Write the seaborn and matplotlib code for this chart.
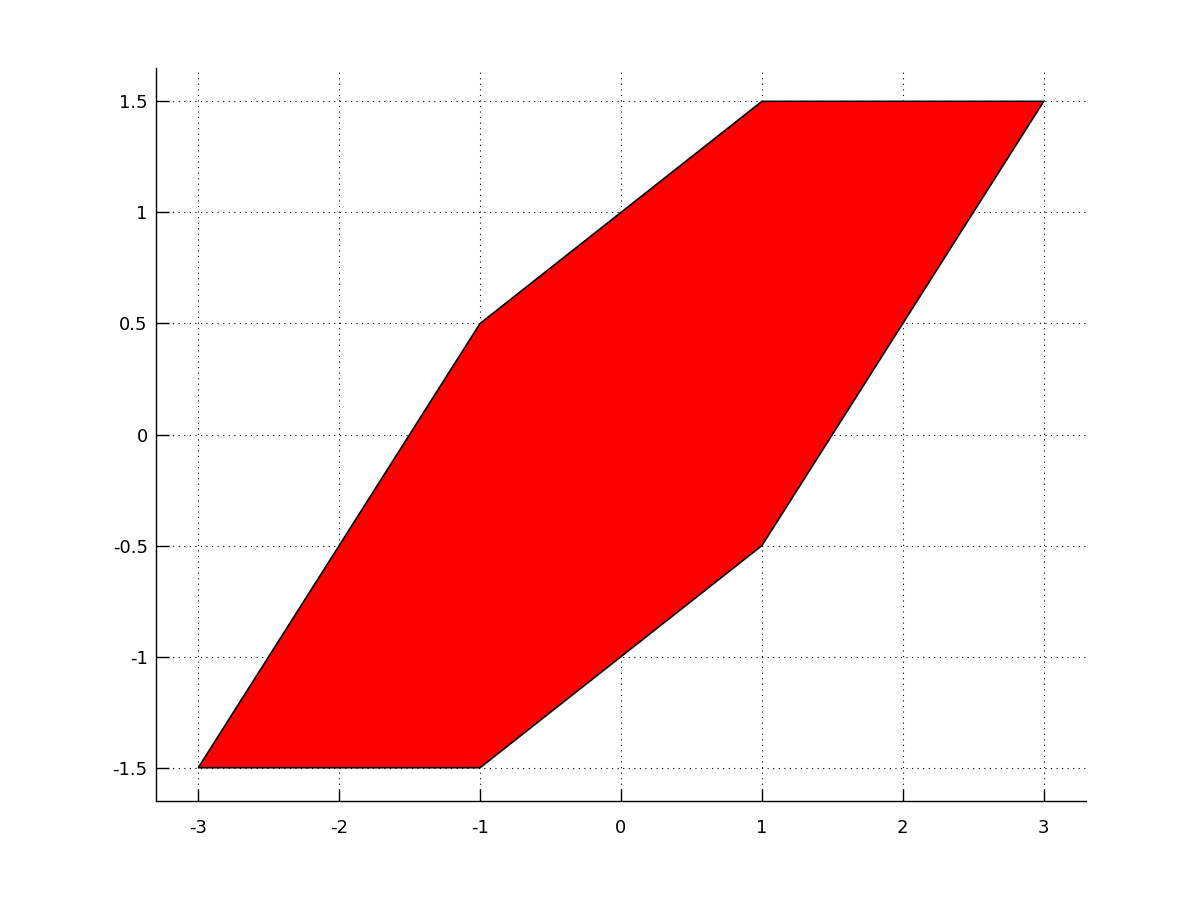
import matplotlib
matplotlib.use("Agg")
import matplotlib.pyplot as plt
import seaborn as sns

# vertices of the polygon
poly_x = [-3, -1, 1, 3, 1, -1]
poly_y = [-1.5, -1.5, -0.5, 1.5, 1.5, 0.5]

x_ticks = [-3, -2, -1, 0, 1, 2, 3]
y_ticks = [-1.5, -1, -0.5, 0, 0.5, 1, 1.5]
y_labels = ["-1.5", "-1", "-0.5", "0", "0.5", "1", "1.5"]

sns.set_theme(style="ticks")
plt.rcParams['font.family'] = ['DejaVu Sans']

fig = plt.figure(figsize=(12, 9), dpi=100)
ax = fig.add_axes([0.13, 0.11, 0.775, 0.8144])

ax.fill(poly_x + [poly_x[0]], poly_y + [poly_y[0]], facecolor="#ff0000",
        edgecolor="black", linewidth=1.2, zorder=3)

ax.set_xlim(-3.3, 3.3)
ax.set_ylim(-1.65, 1.65)
ax.set_xticks(x_ticks)
ax.set_xticklabels([str(t) for t in x_ticks])
ax.set_yticks(y_ticks)
ax.set_yticklabels(y_labels)

ax.grid(True, linestyle=(0, (1, 4)), color="black", linewidth=0.8, zorder=1)
ax.set_axisbelow(True)

sns.despine(ax=ax, top=True, right=True)
for side in ["left", "bottom"]:
    ax.spines[side].set_color("black")
    ax.spines[side].set_linewidth(1.0)

ax.tick_params(direction="in", length=9, width=1, colors="black", labelsize=13)
ax.tick_params(axis="x", pad=13)
ax.tick_params(axis="y", pad=6)

fig.savefig("out.png", dpi=100, facecolor="white")
